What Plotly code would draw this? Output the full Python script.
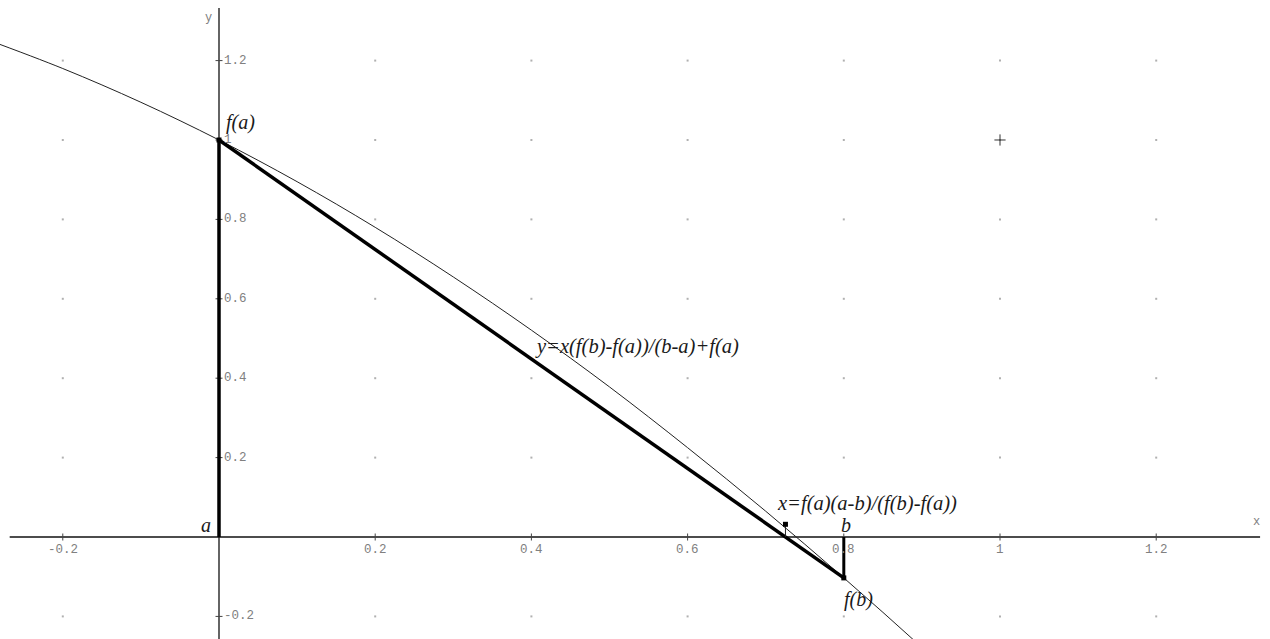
import plotly.graph_objects as go

# Endpoints of the bracketing interval and function values there
a, b = 0.0, 0.8
fa, fb = 1.0, -0.103
root = fa * (a - b) / (fb - fa)

# Sampled points of the curve y = f(x)
curve_x = [-0.3, -0.2, -0.1, 0.0, 0.1, 0.2, 0.3, 0.4, 0.5, 0.6, 0.7, 0.8, 0.9, 1.0]
curve_y = [1.255, 1.180, 1.095, 1.000, 0.895, 0.780, 0.655, 0.521, 0.378, 0.225, 0.065, -0.103, -0.278, -0.460]

# Tick values and labels
x_ticks = [-0.2, 0.2, 0.4, 0.6, 0.8, 1.0, 1.2]
x_tick_labels = ["-0.2", "0.2", "0.4", "0.6", "0.8", "1", "1.2"]
y_ticks = [-0.2, 0.2, 0.4, 0.6, 0.8, 1.0, 1.2]
y_tick_labels = ["-0.2", "0.2", "0.4", "0.6", "0.8", "1", "1.2"]

X_RANGE = [-0.2804, 1.3457]
Y_RANGE = [-0.2569, 1.3526]
X_AXIS_SPAN = [-0.268, 1.333]
Y_AXIS_SPAN = [-0.2569, 1.3325]

mono = "Liberation Mono, DejaVu Sans Mono, monospace"
serif = "Liberation Serif, DejaVu Serif, serif"
tick_grey = "#808080"

fig = go.Figure()

# Dotted grid at every 0.2 step
gx, gy = [], []
for xv in x_ticks:
    for yv in y_ticks:
        gx.append(xv)
        gy.append(yv)
fig.add_trace(go.Scatter(x=gx, y=gy, mode="markers",
                         marker=dict(size=2, color="#b0b0b0", symbol="square"),
                         hoverinfo="skip"))

# Coordinate axes
fig.add_trace(go.Scatter(x=X_AXIS_SPAN, y=[0, 0], mode="lines",
                         line=dict(color="#111", width=1.3), hoverinfo="skip"))
fig.add_trace(go.Scatter(x=[0, 0], y=Y_AXIS_SPAN, mode="lines",
                         line=dict(color="#111", width=1.3), hoverinfo="skip"))

# Tick marks on the axes
fig.add_trace(go.Scatter(x=x_ticks, y=[0] * len(x_ticks), mode="markers",
                         marker=dict(symbol="line-ns", size=5,
                                     line=dict(color="#444", width=1)),
                         hoverinfo="skip"))
fig.add_trace(go.Scatter(x=[0] * len(y_ticks), y=y_ticks, mode="markers",
                         marker=dict(symbol="line-ew", size=5,
                                     line=dict(color="#444", width=1)),
                         hoverinfo="skip"))

# The curve
fig.add_trace(go.Scatter(x=curve_x, y=curve_y, mode="lines", line_shape="spline",
                         line=dict(color="#222", width=1), hoverinfo="skip"))

# Thick construction: f(a) segment, secant, f(b) segment
fig.add_trace(go.Scatter(x=[a, a], y=[0, fa], mode="lines",
                         line=dict(color="#000", width=3.5), hoverinfo="skip"))
fig.add_trace(go.Scatter(x=[a, b], y=[fa, fb], mode="lines",
                         line=dict(color="#000", width=3.5), hoverinfo="skip"))
fig.add_trace(go.Scatter(x=[b, b], y=[0, fb], mode="lines",
                         line=dict(color="#000", width=3), hoverinfo="skip"))

# Secant root marker
fig.add_trace(go.Scatter(x=[root, root], y=[0, 0.032], mode="lines",
                         line=dict(color="#222", width=1), hoverinfo="skip"))
fig.add_trace(go.Scatter(x=[root, a, b], y=[0.032, fa, fb], mode="markers",
                         marker=dict(symbol="square", size=5, color="#000"),
                         hoverinfo="skip"))

# Cross at (1, 1)
fig.add_trace(go.Scatter(x=[1.0], y=[1.0], mode="markers",
                         marker=dict(symbol="cross-thin", size=8,
                                     line=dict(color="#333", width=1)),
                         hoverinfo="skip"))

annotations = []
for v, t in zip(x_ticks, x_tick_labels):
    annotations.append(dict(x=v, y=0, text=t, showarrow=False, yshift=-13,
                            xanchor="center", yanchor="middle",
                            font=dict(family=mono, size=12.5, color=tick_grey)))
for v, t in zip(y_ticks, y_tick_labels):
    annotations.append(dict(x=0, y=v, text=t, showarrow=False, xshift=3,
                            xanchor="left", yanchor="middle",
                            font=dict(family=mono, size=12.5, color=tick_grey)))

annotations.append(dict(x=X_AXIS_SPAN[1], y=0, text="x", showarrow=False,
                        xshift=-4, yshift=15, font=dict(family=mono, size=12, color=tick_grey)))
annotations.append(dict(x=0, y=Y_AXIS_SPAN[1], text="y", showarrow=False,
                        xshift=-11, yshift=-10, font=dict(family=mono, size=12, color=tick_grey)))

label_font = dict(family=serif, size=20, color="#1a1a1a")
formula_font = dict(family=serif, size=20.5, color="#1a1a1a")
annotations += [
    dict(x=a, y=fa, text="<i>f(a)</i>", showarrow=False, xanchor="left",
         xshift=5, yshift=17, font=label_font),
    dict(x=a, y=0, text="<i>a</i>", showarrow=False, xanchor="right",
         xshift=-6, yshift=12, font=label_font),
    dict(x=b, y=0, text="<i>b</i>", showarrow=False, xanchor="center",
         xshift=2, yshift=12, font=label_font),
    dict(x=b, y=fb, text="<i>f(b)</i>", showarrow=False, xanchor="center",
         xshift=15, yshift=-22, font=label_font),
    dict(x=0.5355, y=0.48, text="<i>y=x(f(b)-f(a))/(b-a)+f(a)</i>", showarrow=False,
         xanchor="center", yanchor="middle", font=formula_font),
    dict(x=root, y=0, text="<i>x=f(a)(a-b)/(f(b)-f(a))</i>", showarrow=False,
         xanchor="left", yanchor="middle", xshift=-10, yshift=34,
         font=formula_font),
]

fig.update_layout(
    width=1270, height=639,
    margin=dict(l=0, r=0, t=0, b=0),
    paper_bgcolor="white", plot_bgcolor="white",
    showlegend=False,
    xaxis=dict(range=X_RANGE, visible=False, fixedrange=True),
    yaxis=dict(range=Y_RANGE, visible=False, fixedrange=True),
    annotations=annotations,
)

fig.write_html("out.html")
